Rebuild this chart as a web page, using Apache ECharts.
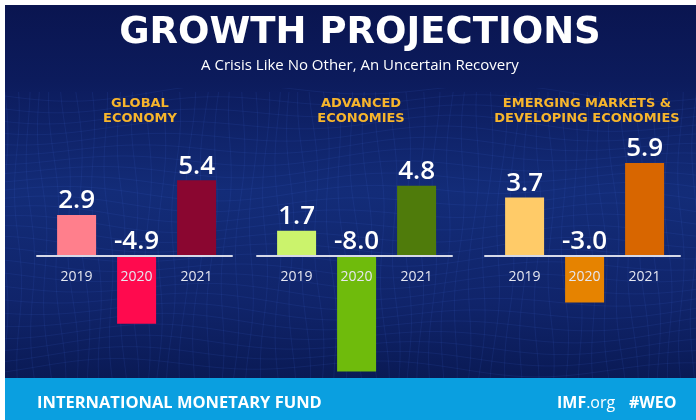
<!DOCTYPE html>
<html>
<head>
<meta charset="utf-8">
<script src="https://cdn.jsdelivr.net/npm/echarts@6/dist/echarts.min.js"></script>
<style>
  html, body { margin: 0; padding: 0; background: #fff; }
  #chart { width: 696px; height: 420px; }
</style>
</head>
<body>
<div id="chart"></div>
<script>
// data
var years = ['2019', '2020', '2021'];
var globalGrowth = [2.9, -4.9, 5.4];
var advancedGrowth = [1.7, -8.0, 4.8];
var emergingGrowth = [3.7, -3.0, 5.9];
var panelTitles = ['GLOBAL\nECONOMY', 'ADVANCED\nECONOMIES', 'EMERGING MARKETS &\nDEVELOPING ECONOMIES'];
var globalColors = ['#ff7f8c', '#ff0a4e', '#8a0630'];
var advancedColors = ['#cbf36c', '#6fbb0c', '#4f7b0b'];
var emergingColors = ['#ffcb68', '#e68300', '#d86600'];

// layout
var BASE_Y = 255.5;     // zero line in px
var PANEL_W = 195;
var panels = [
    {left: 37,  titleX: 135, scale: 13.94, yMin: -6, yMax: 7, values: globalGrowth,   colors: globalColors},
    {left: 257, titleX: 356, scale: 14.51, yMin: -9, yMax: 6, values: advancedGrowth, colors: advancedColors},
    {left: 485, titleX: 582, scale: 15.68, yMin: -4, yMax: 7, values: emergingGrowth, colors: emergingColors}
];
var FONT = 'Open Sans';
var WIDE = 'DejaVu Sans';

var chart = echarts.init(document.getElementById('chart'), null, {renderer: 'canvas'});

var grids = [], xAxes = [], yAxes = [], series = [], titles = [];

titles.push({
    text: 'GROWTH PROJECTIONS',
    left: 355, top: 10, textAlign: 'center',
    textStyle: {color: '#fff', fontSize: 37, fontWeight: 'bold', fontFamily: WIDE}
});
titles.push({
    text: 'A Crisis Like No Other, An Uncertain Recovery',
    left: 355, top: 53, textAlign: 'center',
    textStyle: {color: '#fff', fontSize: 15, fontWeight: 'normal', fontFamily: FONT}
});

panels.forEach(function (p, i) {
    grids.push({
        left: p.left,
        width: PANEL_W,
        top: BASE_Y - p.yMax * p.scale,
        height: (p.yMax - p.yMin) * p.scale
    });
    // axis sits on the zero line: shift it up from the grid bottom
    xAxes.push({
        type: 'value', gridIndex: i, min: -0.66, max: 2.59, z: 5,
        position: 'bottom', offset: p.yMin * p.scale,
        axisLine: {show: true, onZero: false, lineStyle: {color: '#d6d9e8', width: 2}},
        axisTick: {show: false},
        splitLine: {show: false},
        axisLabel: {
            customValues: [0, 1, 2],
            formatter: function (v) { return Number.isInteger(v) ? years[v] : ''; },
            color: '#e6e7f0', fontSize: 14, fontFamily: FONT, margin: 15
        }
    });
    yAxes.push({
        type: 'value', gridIndex: i, min: p.yMin, max: p.yMax,
        show: false, splitLine: {show: false}
    });
    series.push({
        type: 'bar', xAxisIndex: i, yAxisIndex: i, barWidth: 39,
        data: p.values.map(function (v, k) {
            return {value: [k, v], itemStyle: {color: p.colors[k]}};
        }),
        label: {
            show: true, position: 'top', distance: 1,
            formatter: function (d) { return d.value[1].toFixed(1); },
            color: '#fff', fontSize: 26, fontWeight: 600, fontFamily: FONT
        }
    });
    titles.push({
        text: panelTitles[i],
        left: p.titleX, top: 91, textAlign: 'center',
        textStyle: {color: '#f7b52c', fontSize: 13, fontWeight: 'bold', fontFamily: WIDE, lineHeight: 15}
    });
});

// faint wireframe texture behind the bars (decoration only)
var mesh = [];
for (var r = 0; r < 26; r++) {
    var pts = [];
    for (var c = 0; c <= 70; c++) {
        var x = 5 + c * 10;
        var y = 92 + r * 11 + 6 * Math.sin(c * 0.22 + r * 0.35) + 4 * Math.cos(c * 0.09 - r * 0.2);
        pts.push([x, y]);
    }
    mesh.push({type: 'polyline', silent: true, z: -9, shape: {points: pts},
        style: {stroke: '#3a63d0', lineWidth: 0.6, opacity: 0.22, fill: null}});
}
for (var c2 = 0; c2 < 56; c2++) {
    var pts2 = [];
    for (var r2 = 0; r2 <= 26; r2++) {
        var yy = 92 + r2 * 11;
        var xx = 5 + c2 * 13 + (r2 - 13) * 0.5 * Math.sin(c2 * 0.3) + 3 * Math.sin(r2 * 0.4 + c2);
        pts2.push([xx, yy]);
    }
    mesh.push({type: 'polyline', silent: true, z: -9, shape: {points: pts2},
        style: {stroke: '#3a63d0', lineWidth: 0.6, opacity: 0.22, fill: null}});
}

var option = {
    backgroundColor: '#ffffff',
    animation: false,
    graphic: [
        {
            type: 'rect', z: -10, silent: true,
            shape: {x: 5, y: 5, width: 691, height: 373},
            style: {
                fill: new echarts.graphic.LinearGradient(0, 0, 0, 1, [
                    {offset: 0, color: '#0a1550'},
                    {offset: 0.2, color: '#0c1b5c'},
                    {offset: 0.5, color: '#132c78'},
                    {offset: 0.8, color: '#10246a'},
                    {offset: 1, color: '#0a1a55'}
                ])
            }
        },
        {
            type: 'group', silent: true, children: mesh,
            clipPath: {type: 'rect', shape: {x: 5, y: 88, width: 691, height: 290}}
        },
        {
            type: 'rect', z: -8, silent: true,
            shape: {x: 5, y: 378, width: 691, height: 42},
            style: {fill: '#0a9fe0'}
        },
        {
            type: 'text', left: 37, top: 395, silent: true,
            style: {text: 'INTERNATIONAL MONETARY FUND', fill: '#fff', font: 'bold 16.5px "Open Sans"'}
        },
        {
            type: 'text', left: 557, top: 395, silent: true,
            style: {
                text: '{b|IMF}{n|.org}',
                rich: {
                    b: {fill: '#fff', font: 'bold 16px "Open Sans"'},
                    n: {fill: '#fff', font: '16px "Open Sans"'}
                }
            }
        },
        {
            type: 'text', left: 629, top: 395, silent: true,
            style: {text: '#WEO', fill: '#fff', font: 'bold 16px "Open Sans"'}
        }
    ],
    title: titles,
    grid: grids,
    xAxis: xAxes,
    yAxis: yAxes,
    series: series
};

chart.setOption(option);
</script>
</body>
</html>
